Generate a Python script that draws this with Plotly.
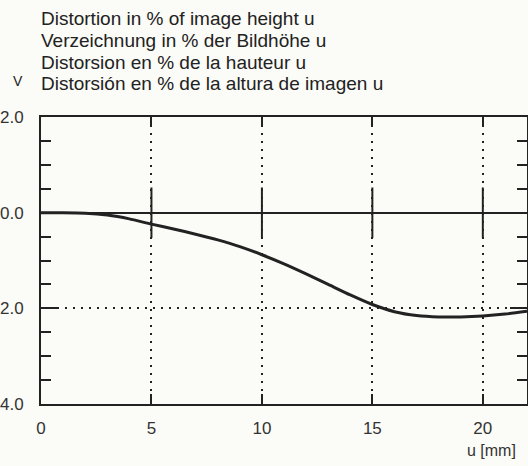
import plotly.graph_objects as go

# Image height u [mm]
u_mm = [0, 1, 2, 3, 4, 5, 6, 7, 8, 9, 10, 11, 12, 13, 14, 15, 16, 17, 18, 19, 20, 21, 22]
# Distortion V [%]
distortion = [0.0, 0.0, -0.01, -0.05, -0.13, -0.24, -0.34, -0.45, -0.57, -0.71, -0.88,
              -1.07, -1.28, -1.50, -1.72, -1.92, -2.07, -2.15, -2.18, -2.18, -2.16,
              -2.12, -2.06]

x_ticks = [0, 5, 10, 15, 20]
x_ticktext = ["0", "5", "10", "15", "20"]
y_ticks = [2, 0, -2, -4]
# labels as printed (the minus signs are cropped off in the original scan)
y_ticktext = ["2.0", "0.0", "2.0", "4.0"]

title_lines = [
    "Distortion in % of image height u",
    "Verzeichnung in % der Bildhöhe u",
    "Distorsion en % de la hauteur u",
    "Distorsión en % de la altura de imagen u",
]

ink = "#222222"
bg = "#fbfbf7"
font = "Liberation Sans, Arial, sans-serif"

fig = go.Figure()
fig.add_trace(go.Scatter(
    x=u_mm, y=distortion, mode="lines",
    line=dict(color=ink, width=3, shape="spline", smoothing=0.6),
    hoverinfo="skip", showlegend=False,
))
# cross marks where the dotted verticals meet the zero line
fig.add_trace(go.Scatter(
    x=x_ticks[1:], y=[0] * len(x_ticks[1:]), mode="markers",
    marker=dict(symbol="line-ns-open", size=36, color=ink, line=dict(color=ink, width=2)),
    hoverinfo="skip", showlegend=False, cliponaxis=False,
))

fig.update_layout(
    width=528, height=466,
    margin=dict(l=41, r=1, t=117, b=62),
    paper_bgcolor=bg, plot_bgcolor=bg,
    font=dict(family=font, size=16, color="#333"),
    showlegend=False,
    xaxis=dict(
        range=[0, 22], tickvals=x_ticks, ticktext=x_ticktext,
        ticks="inside", ticklen=10, tickwidth=2, tickcolor=ink,
        showline=True, linewidth=2, linecolor=ink, mirror="ticks",
        showgrid=True, griddash="2px,6px", gridcolor=ink, gridwidth=2,
        zeroline=False, ticklabelstandoff=8, automargin=False,
        tickfont=dict(size=17, color="#333"),
    ),
    yaxis=dict(
        range=[-4, 2], tickvals=y_ticks, ticktext=y_ticktext,
        ticks="inside", ticklen=17, tickwidth=2, tickcolor=ink,
        minor=dict(dtick=0.5, ticks="inside", ticklen=10, tickwidth=2, tickcolor=ink, showgrid=False),
        showline=True, linewidth=2, linecolor=ink, mirror="ticks",
        showgrid=True, griddash="2px,6px", gridcolor=ink, gridwidth=2,
        zeroline=True, zerolinecolor=ink, zerolinewidth=2,
        ticklabelstandoff=12, automargin=False,
        tickfont=dict(size=17, color="#333"),
    ),
)

line_y = [18, 40, 62, 83]
for txt, yy in zip(title_lines, line_y):
    fig.add_annotation(
        text=txt, xref="paper", yref="paper", x=0, y=1,
        xanchor="left", yanchor="middle", yshift=117 - yy, xshift=-2,
        showarrow=False, font=dict(family=font, size=19, color="#222"),
    )
fig.add_annotation(
    text="V", xref="paper", yref="paper", x=0, y=1,
    xanchor="center", yanchor="middle", xshift=-23, yshift=117 - 81, showarrow=False,
    font=dict(family=font, size=14, color="#222"),
)
fig.add_annotation(
    text="u [mm]", xref="paper", yref="paper", x=1, y=0,
    xanchor="right", yanchor="middle", xshift=-9, yshift=-46, showarrow=False,
    font=dict(family=font, size=16, color="#333"),
)

fig.write_html("out.html")
